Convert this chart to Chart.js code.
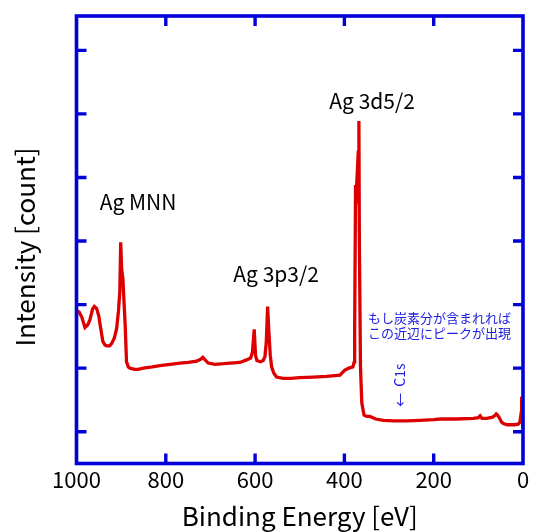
<!DOCTYPE html>
<html><head><meta charset="utf-8">
<script src="https://cdn.jsdelivr.net/npm/chart.js@4/dist/chart.umd.min.js"></script>
<style>html,body{margin:0;padding:0;background:#fff;}#wrap{width:533px;height:532px;}</style>
</head><body><div id="wrap"><canvas id="c" width="533" height="532"></canvas></div>
<script>
const energies = [1000,994,988,981,975,970,964,960,955,950,947,941,936,932,926,921,915,910,906,903,901,899,896,894,891,888,884,880,870,862,850,830,813,790,768,750,731,722,717,712,705,690,670,656,634,619,610,606,602,599,596,588,582,578,575,572,569,566,563,558,552,537,520,500,470,440,410,399,390,381,378,377,375,373,369,367.5,366.5,364,361,356,350,343,330,313,290,260,230,200,186,150,111,100,96,92,81,68,62,60,57,53,48,44,35,29,20,11,7,4,3,2,0];
const intensities = [1.91,1.88,1.80,1.64,1.68,1.76,1.93,1.97,1.94,1.82,1.68,1.42,1.36,1.35,1.35,1.39,1.48,1.63,1.90,2.20,2.98,2.57,2.40,2.10,1.68,1.10,1.02,1.00,0.98,0.98,1.00,1.02,1.04,1.06,1.08,1.09,1.11,1.14,1.17,1.13,1.08,1.06,1.07,1.08,1.09,1.13,1.16,1.25,1.61,1.20,1.12,1.10,1.12,1.18,1.40,1.97,1.55,1.20,1.02,0.92,0.86,0.84,0.84,0.85,0.86,0.87,0.89,0.97,1.00,1.02,1.10,1.60,3.88,3.80,4.40,4.89,3.00,1.02,0.45,0.26,0.24,0.24,0.20,0.18,0.17,0.17,0.18,0.19,0.20,0.20,0.21,0.22,0.25,0.21,0.21,0.23,0.26,0.28,0.26,0.22,0.15,0.13,0.11,0.11,0.11,0.12,0.15,0.30,0.55,0.35,0.06];
const xTicks = [1000,800,600,400,200,0];
const yTicks = [0,1,2,3,4,5,6];
const peakLabels = ['Ag 3d5/2','Ag MNN','Ag 3p3/2'];
const peakLabelX = [338,862,553];
const peakLabelY = [5.2,3.62,2.48];
const noteLines = ['もし炭素分が含まれれば','この近辺にピークが出現'];
const noteX = 347;
const noteY = [1.79,1.55];
const c1sLabel = '←  C1s';
const c1sX = 276;
const c1sY = 0.73;
const xTitle = 'Binding Energy [eV]';
const yTitle = 'Intensity [count]';

const FONT = "'Noto Sans CJK JP','Noto Sans',sans-serif";
Chart.defaults.font.family = FONT;
const BLUE = '#0000d8';
const NOTE = '#2020e0';

const frame = {
  id:'frame',
  afterDatasetsDraw(chart){
    const {ctx, chartArea:a, scales:{x,y}} = chart;
    ctx.save();
    ctx.strokeStyle = BLUE; ctx.lineWidth = 3.6; ctx.lineCap='butt';
    ctx.strokeRect(a.left, a.top, a.right-a.left, a.bottom-a.top);
    ctx.lineWidth = 3.4;
    const L = 10;
    ctx.beginPath();
    xTicks.forEach(v=>{ if(v===0||v===1000) return; const px=x.getPixelForValue(v);
      ctx.moveTo(px,a.bottom); ctx.lineTo(px,a.bottom-L); ctx.moveTo(px,a.top); ctx.lineTo(px,a.top+L); });
    yTicks.forEach(v=>{ const py=y.getPixelForValue(v);
      ctx.moveTo(a.left,py); ctx.lineTo(a.left+L,py); ctx.moveTo(a.right,py); ctx.lineTo(a.right-L,py); });
    ctx.stroke();
    ctx.fillStyle='#000'; ctx.font = '21px '+FONT; ctx.textAlign='center'; ctx.textBaseline='middle';
    peakLabels.forEach((t,i)=>ctx.fillText(t, x.getPixelForValue(peakLabelX[i]), y.getPixelForValue(peakLabelY[i])));
    ctx.fillStyle=NOTE; ctx.font='13px '+FONT; ctx.textAlign='left';
    noteLines.forEach((t,i)=>ctx.fillText(t, x.getPixelForValue(noteX), y.getPixelForValue(noteY[i])));
    ctx.save();
    ctx.translate(x.getPixelForValue(c1sX), y.getPixelForValue(c1sY));
    ctx.rotate(-Math.PI/2);
    ctx.font='14px '+FONT; ctx.textAlign='center';
    ctx.fillText(c1sLabel,0,0);
    ctx.restore();
    // y axis title
    ctx.fillStyle='#000'; ctx.font='26px '+FONT; ctx.textAlign='center';
    ctx.translate(25, 247);
    ctx.rotate(-Math.PI/2);
    ctx.fillText(yTitle,0,0);
    ctx.restore();
  }
};

new Chart(document.getElementById('c'), {
  type:'line',
  data:{ datasets:[{ data: energies.map((e,i)=>({x:e,y:intensities[i]})), borderColor:'#dd0000', borderWidth:3.3, pointRadius:0, tension:0, fill:false }]},
  options:{
    responsive:false, animation:false, devicePixelRatio:1,
    layout:{padding:{top:16,right:10,left:0,bottom:0}},
    plugins:{legend:{display:false}, tooltip:{enabled:false}},
    scales:{
      x:{type:'linear', reverse:true, min:0, max:1000,
        afterBuildTicks(s){ s.ticks = xTicks.map(v=>({value:v})); },
        afterFit(s){ s.height = 68.5; },
        grid:{display:false, drawTicks:false}, border:{display:false},
        ticks:{color:'#000', font:{size:22}, padding:3, maxRotation:0, autoSkip:false, callback:v=>String(v)},
        title:{display:true, text:xTitle, color:'#000', font:{size:26}, padding:{top:0,bottom:0}}
      },
      y:{type:'linear', min:-0.5, max:6.54,
        afterFit(s){ s.width = 76.5; },
        grid:{display:false, drawTicks:false}, border:{display:false},
        ticks:{display:false},
        title:{display:false}
      }
    }
  },
  plugins:[frame]
});
</script></body></html>
